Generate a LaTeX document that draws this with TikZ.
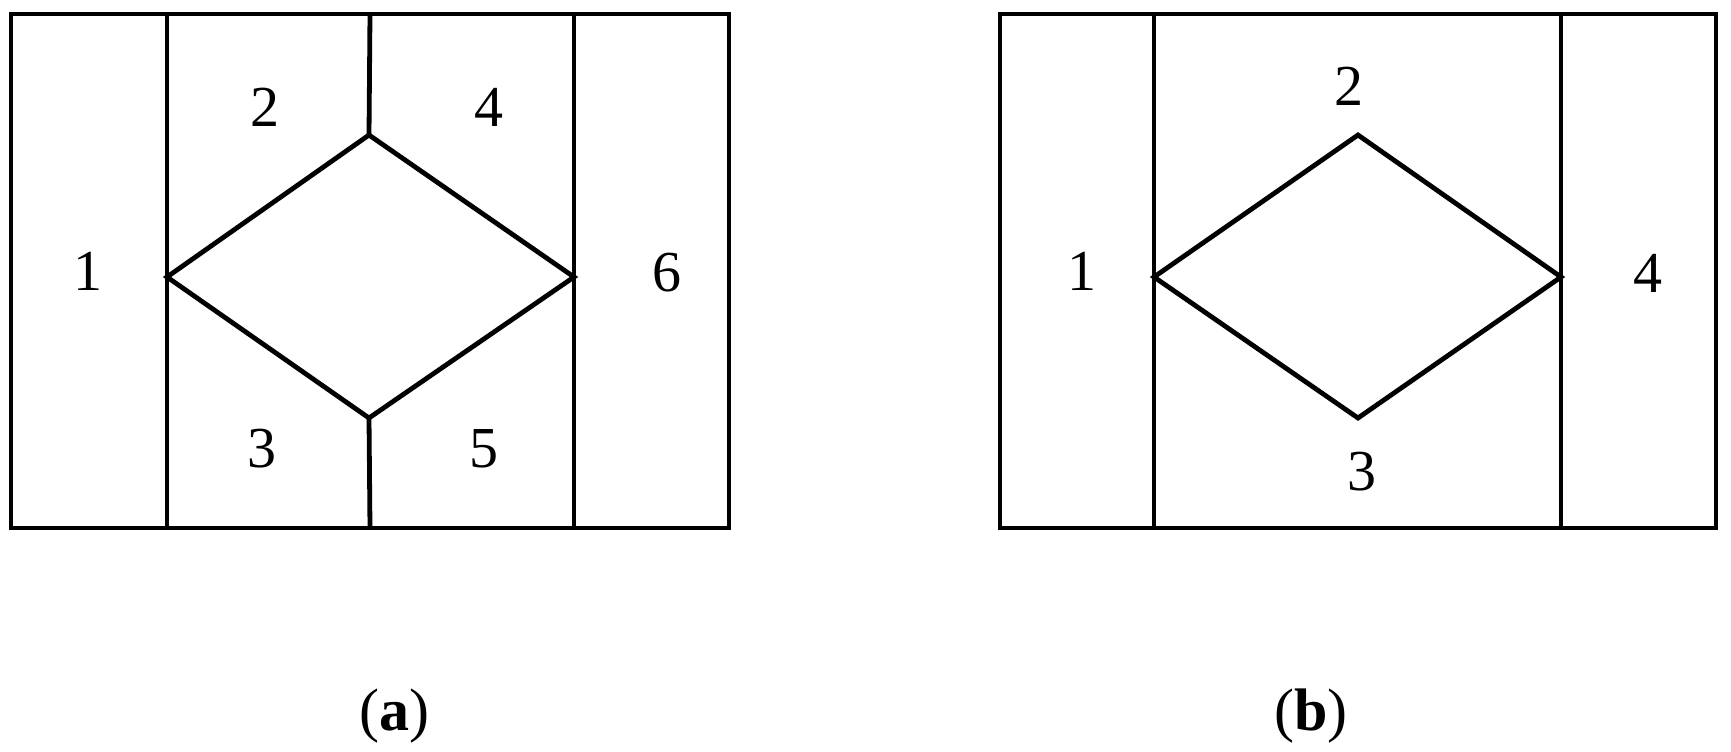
\documentclass[tikz,border=0pt]{standalone}
\usepackage{fontspec}
\setmainfont{Liberation Serif}
\begin{document}
\begin{tikzpicture}[x=0.5pt,y=-0.5pt,
  wall/.style={line width=2.4pt,line join=miter},
  lbl/.style={inner sep=0pt,font=\fontsize{29}{34}\selectfont},
  captxt/.style={inner sep=0pt,font=\fontsize{30}{36}\selectfont}]
\useasboundingbox (0,0) rectangle (1731,751);
% ---------- (a) ----------
\coordinate (aTL) at (11,14);
\coordinate (aBR) at (729,528);
\draw[wall] (aTL) rectangle (aBR);
\coordinate (aL1t) at (167,14); \coordinate (aL1b) at (167,528);
\coordinate (aL2t) at (574,14); \coordinate (aL2b) at (574,528);
\draw[wall] (aL1t) -- (aL1b);
\draw[wall] (aL2t) -- (aL2b);
\coordinate (aW) at (167,277);
\coordinate (aN) at (369,135);
\coordinate (aE) at (574,277);
\coordinate (aS) at (369,418);
\coordinate (aMt) at (370,14);
\coordinate (aMb) at (370,528);
\draw[wall] (aW) -- (aN) -- (aE) -- (aS) -- cycle;
\draw[wall] (aMt) -- (aN);
\draw[wall] (aS) -- (aMb);
\node[lbl] (a1) at (88,271) {1};
\node[lbl] (a2) at (265,107) {2};
\node[lbl] (a4) at (489,107) {4};
\node[lbl] (a3) at (262,449) {3};
\node[lbl] (a5) at (484,449) {5};
\node[lbl] (a6) at (667,273) {6};
\node[captxt] (capa) at (394,716) {(\textbf{a})};
% ---------- (b) ----------
\coordinate (bTL) at (1000,14);
\coordinate (bBR) at (1716,528);
\draw[wall] (bTL) rectangle (bBR);
\coordinate (bL1t) at (1154,14); \coordinate (bL1b) at (1154,528);
\coordinate (bL2t) at (1561,14); \coordinate (bL2b) at (1561,528);
\draw[wall] (bL1t) -- (bL1b);
\draw[wall] (bL2t) -- (bL2b);
\coordinate (bW) at (1154,277);
\coordinate (bN) at (1358,135);
\coordinate (bE) at (1561,277);
\coordinate (bS) at (1358,418);
\draw[wall] (bW) -- (bN) -- (bE) -- (bS) -- cycle;
\node[lbl] (b1) at (1082,271) {1};
\node[lbl] (b2) at (1349,86) {2};
\node[lbl] (b3) at (1362,472) {3};
\node[lbl] (b4) at (1648,273) {4};
\node[captxt] (capb) at (1311,716) {(\textbf{b})};
\end{tikzpicture}
\end{document}
